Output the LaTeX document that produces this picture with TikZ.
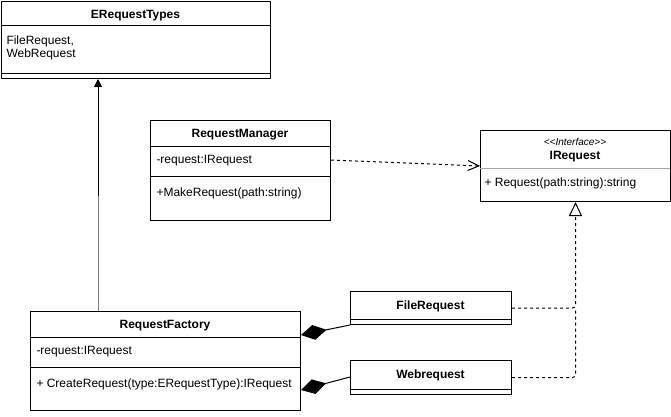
\documentclass[tikz,border=0pt]{standalone}
\usepackage{fontspec}
\setmainfont{Liberation Sans}
\usetikzlibrary{positioning, arrows.meta}
\tikzset{
	% caixa da classe
	classe/.style={
		draw,
		anchor=north west,
		inner sep=0pt
	}, %
	% nome da classe
	nome/.style={
		font=\fontsize{12}{14}\selectfont\bfseries,
		yshift=-1.5pt,
		inner sep=0pt
	}, %
	% atributos e metodos
	membro/.style={
		font=\fontsize{12}{13}\selectfont,
		anchor=west,
		align=left,
		yshift=-1.5pt,
		inner sep=0pt
	}, %
	% tracejado
	tracejado/.style={
		dash pattern=on 3pt off 3pt
	} %
}

\begin{document}
\begin{tikzpicture}[x=1pt,y=-1pt,line width=1pt]
			\useasboundingbox (0,0) rectangle (671,417);
			
			% ERequestTypes
			\node[classe, minimum width=269pt, minimum height=77pt] (tipos) at (1,1) {};
			\draw (tipos.north west) ++(0,25) -- ++(269,0);
			\draw (tipos.north west) ++(0,73) -- ++(269,0);
			\node[nome] (tiposN) at (135.5,14) {ERequestTypes};
			\node[membro, anchor=north west] (tiposA) at (6,34) {FileRequest,\\WebRequest};
			
			% RequestManager
			\node[classe, minimum width=180pt, minimum height=100pt] (gestor) at (150,120) {};
			\draw (gestor.north west) ++(0,26) -- ++(180,0);
			\draw (gestor.north west) ++(0,56) -- ++(180,0);
			\node[nome] (gestorN) at (240,133) {RequestManager};
			\node[membro] (gestorA) at (156,159) {-request:IRequest};
			\node[membro] (gestorM) at (156,192) {+MakeRequest(path:string)};
			
			% IRequest
			\node[classe, minimum width=190pt, minimum height=71pt] (interface) at (480,130) {};
			\draw[gray!70] (interface.north west) ++(0,38) -- ++(190,0);
			\node[font=\fontsize{10}{12}\selectfont\itshape, inner sep=0pt, yshift=-1pt] (interfaceE) at (575,141) {<\kern0pt<Interface>\kern0pt>};
			\node[nome] (interfaceN) at (575,155) {IRequest};
			\node[membro] (interfaceM) at (484,182) {+ Request(path:string):string};
			
			% RequestFactory
			\node[classe, minimum width=270pt, minimum height=99pt] (fabrica) at (30,311) {};
			\draw (fabrica.north west) ++(0,26) -- ++(270,0);
			\draw (fabrica.north west) ++(0,56) -- ++(270,0);
			\node[nome] (fabricaN) at (165,324) {RequestFactory};
			\node[membro] (fabricaA) at (36,350) {-request:IRequest};
			\node[membro] (fabricaM) at (36,383) {+ CreateRequest(type:ERequestType):IRequest};
			
			% FileRequest, Webrequest
			\node[classe, minimum width=161pt, minimum height=33pt] (arquivo) at (350,291) {};
			\draw (arquivo.north west) ++(0,28) -- ++(161,0);
			\node[nome] (arquivoN) at (430.5,304.5) {FileRequest};
			\node[classe, minimum width=161pt, minimum height=34pt] (web) at (350,360) {};
			\draw (web.north west) ++(0,29) -- ++(161,0);
			\node[nome] (webN) at (430.5,374) {Webrequest};
			
			% seta para ERequestTypes
			\coordinate (quebra) at (98,196);
			\draw[gray] ([xshift=68pt]fabrica.north west) -- (quebra);
			\draw[-{Triangle[length=8pt,width=8pt]}] (quebra) -- (quebra |- tipos.south);
			
			% dependencia
			\draw[tracejado, -{Straight Barb[length=11pt,width=10pt]}] ([yshift=-40pt]gestor.north east) -- ([yshift=-36pt]interface.north west);
			
			% realizacao
			\draw[tracejado, rounded corners=3pt, -{Triangle[length=14pt,width=13pt,fill=white]}] (arquivo.east) -- (arquivo.east -| interface.south) -- (interface.south);
			\draw[tracejado, rounded corners=3pt] (web.east) -- (web.east -| interface.south) -- (arquivo.east -| interface.south);
			
			% composicao
			\draw[{Diamond[length=26pt,width=15pt]}-] ([yshift=-24pt]fabrica.north east) -- (arquivo.south west);
			\draw[{Diamond[length=26pt,width=15pt]}-] ([yshift=-79pt]fabrica.north east) -- ([yshift=-17pt]web.north west);
		\end{tikzpicture}
\end{document}
